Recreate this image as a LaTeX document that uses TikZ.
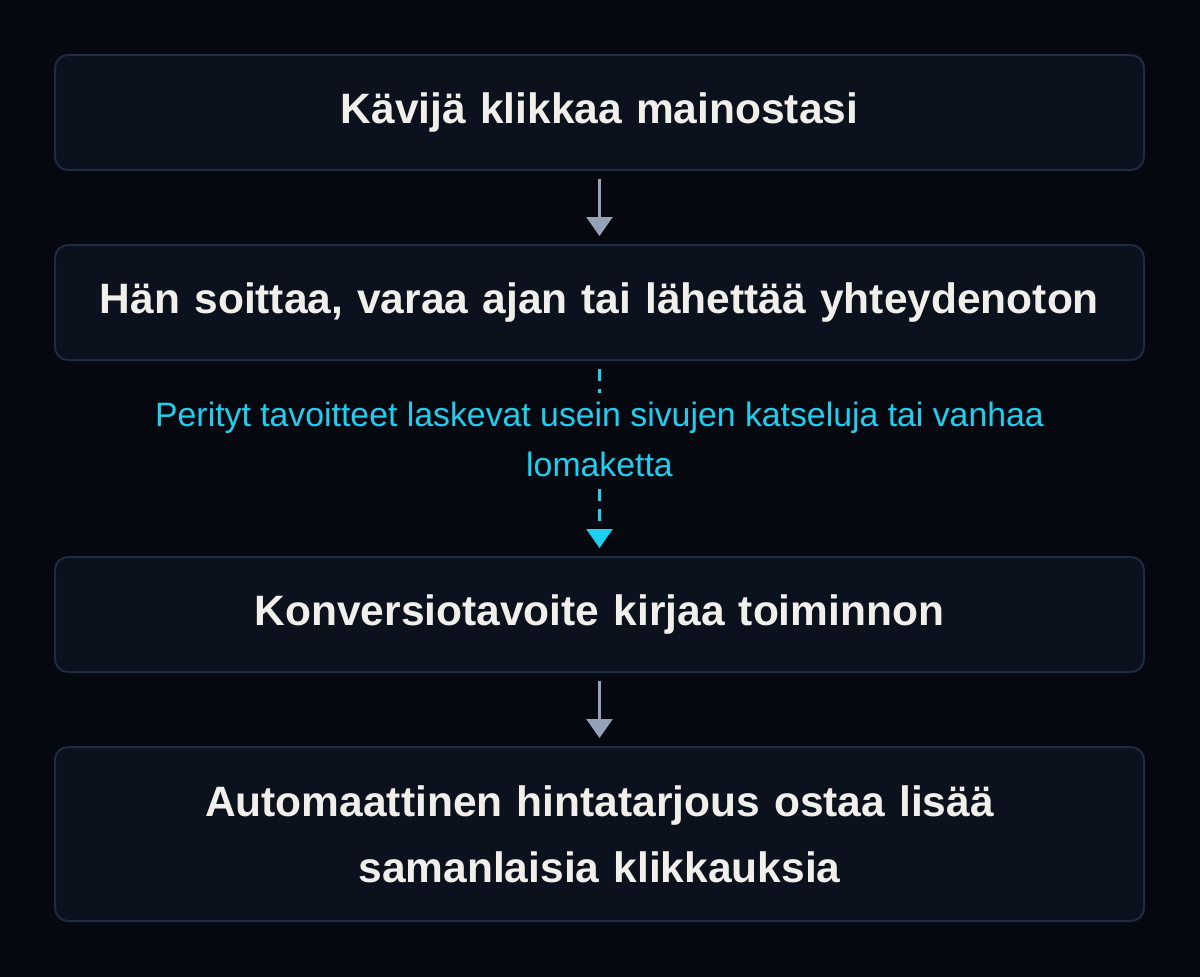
\documentclass[tikz,border=0pt]{standalone}
\usepackage{fontspec}
\setmainfont{Liberation Sans}
\usetikzlibrary{arrows.meta}

\definecolor{bgdark}{HTML}{05080F}
\definecolor{boxfill}{HTML}{0B111D}
\definecolor{boxline}{HTML}{1F2B43}
\definecolor{boxtext}{HTML}{F1EFEA}
\definecolor{flowgray}{HTML}{94A3B8}
\definecolor{flowcyan}{HTML}{1FCFEF}

\tikzset{
	stagebox/.style={draw=boxline, line width=2pt, fill=boxfill, rounded corners=13pt,
		minimum width=1089pt, text width=1060pt, align=center, text=boxtext,
		font=\bfseries\fontsize{42.5}{66}\selectfont},
	flowarrow/.style={flowgray, line width=2.5pt, -{Triangle[width=26pt,length=19pt]},
		shorten <=8pt, shorten >=8pt},
	dasharrow/.style={flowcyan, line width=2.5pt, dash pattern=on 12pt off 8pt,
		-{Triangle[width=26pt,length=19pt]}, shorten <=8pt, shorten >=8pt},
	warnlabel/.style={fill=bgdark, text=flowcyan, align=center, inner sep=9pt,
		font=\fontsize{33.8}{50}\selectfont}
}

\begin{document}
\begin{tikzpicture}[x=1pt, y=-1pt]
	\fill[bgdark] (0,0) rectangle (1200,977);
	\useasboundingbox (0,0) rectangle (1200,977);

	\node[stagebox, minimum height=115pt] (click) at (599.5,112.5) {Kävijä klikkaa mainostasi};
	\node[stagebox, minimum height=115pt] (contact) at (599.5,302.5) {Hän soittaa, varaa ajan tai lähettää yhteydenoton};
	\node[stagebox, minimum height=115pt] (record) at (599.5,614.5) {Konversiotavoite kirjaa toiminnon};
	\node[stagebox, minimum height=174pt] (bidding) at (599.5,834) {Automaattinen hintatarjous ostaa lisää\\samanlaisia klikkauksia};

	\draw[flowarrow] (click) -- (contact);
	\draw[dasharrow] (contact) -- (record)
		node[warnlabel, pos=0.4] (inherited) {Perityt tavoitteet laskevat usein sivujen katseluja tai vanhaa\\lomaketta};
	\draw[flowarrow] (record) -- (bidding);
\end{tikzpicture}
\end{document}
